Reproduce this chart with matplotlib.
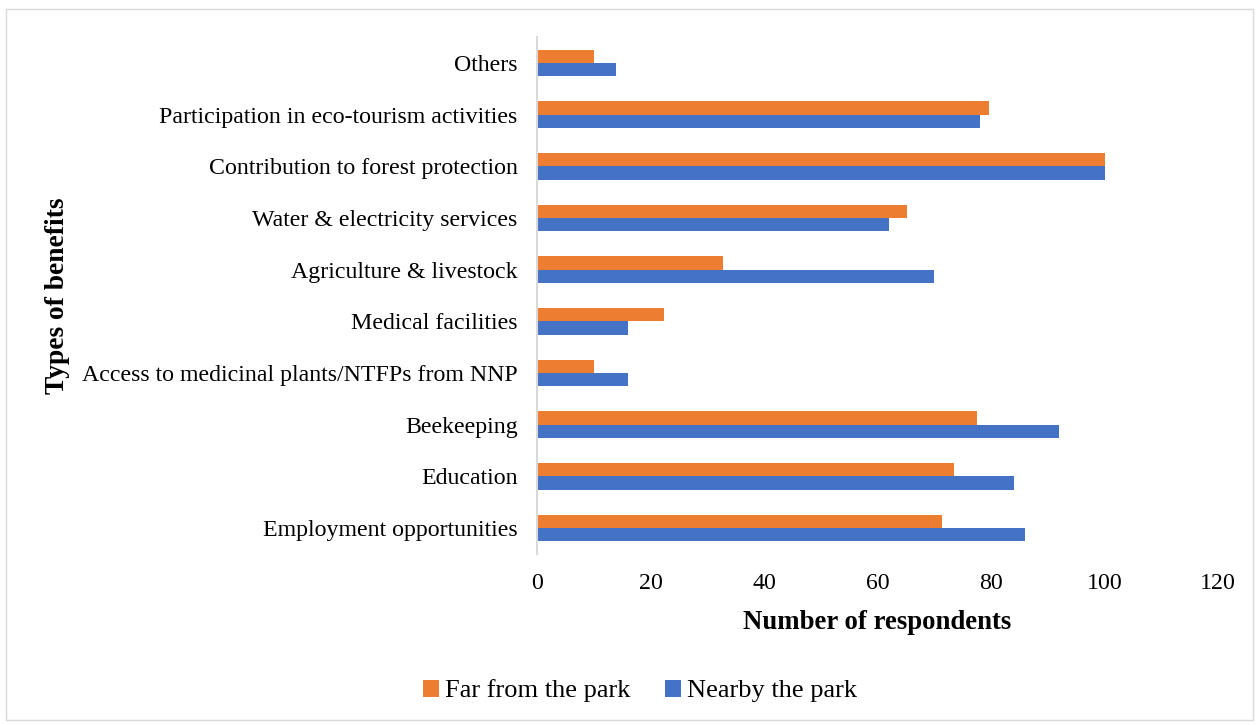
import matplotlib
matplotlib.use("Agg")
import matplotlib.pyplot as plt
from matplotlib.patches import Rectangle
import numpy as np

# categories listed top to bottom as in the chart
categories = [
    "Others",
    "Participation in eco-tourism activities",
    "Contribution to forest protection",
    "Water & electricity services",
    "Agriculture & livestock",
    "Medical facilities",
    "Access to medicinal plants/NTFPs from NNP",
    "Beekeeping",
    "Education",
    "Employment opportunities",
]
far_park = [10, 79.6, 100, 65.2, 32.7, 22.4, 10, 77.6, 73.5, 71.4]
nearby_park = [14, 78, 100, 62, 70, 16, 16, 92, 84, 86]
x_ticks = [0, 20, 40, 60, 80, 100, 120]

ORANGE = "#ED7D31"
BLUE = "#4472C4"

plt.rcParams["font.family"] = ["Liberation Serif", "DejaVu Serif"]

W, H = 1259, 725
fig = plt.figure(figsize=(W / 100, H / 100), dpi=100)

# axes placement in pixels: left 537, right 1218, top 37, bottom 554
ax = fig.add_axes([537 / W, 1 - 554 / H, (1218 - 537) / W, (554 - 37) / H])

y = np.arange(len(categories))
h = 0.258
ax.barh(y - h / 2, far_park, height=h, color=ORANGE, label="Far from the park")
ax.barh(y + h / 2, nearby_park, height=h, color=BLUE, label="Nearby the park")

ax.set_ylim(len(categories) - 0.5, -0.5)
ax.set_xlim(0, 120)
ax.set_xticks(x_ticks)
ax.set_yticks(y)
ax.set_yticklabels(categories)
ax.tick_params(axis="y", length=0, pad=14, labelsize=17.2)
ax.tick_params(axis="x", length=0, pad=14, labelsize=17.2)

for s in ["top", "right", "bottom"]:
    ax.spines[s].set_visible(False)
ax.spines["left"].set_color("#D9D9D9")
ax.spines["left"].set_linewidth(1.5)

ax.set_xlabel("Number of respondents", fontsize=19.3, fontweight="bold", labelpad=11)
fig.text(58 / W, 1 - 296 / H, "Types of benefits", rotation=90, fontsize=19.8,
         fontweight="bold", ha="center", va="center")

handles, labels = ax.get_legend_handles_labels()
fig.legend(handles, labels, loc="center", bbox_to_anchor=(640 / W, 1 - 691 / H),
           ncol=2, frameon=False, fontsize=19, handlelength=0.6, handleheight=0.6,
           handletextpad=0.25, columnspacing=1.3)

# light frame around the whole chart
fig.patches.append(Rectangle((6 / W, 1 - 720 / H), (1253 - 6) / W, (720 - 9) / H,
                             transform=fig.transFigure, fill=False,
                             edgecolor="#D9D9D9", linewidth=1))

fig.savefig("out.png", dpi=100)
